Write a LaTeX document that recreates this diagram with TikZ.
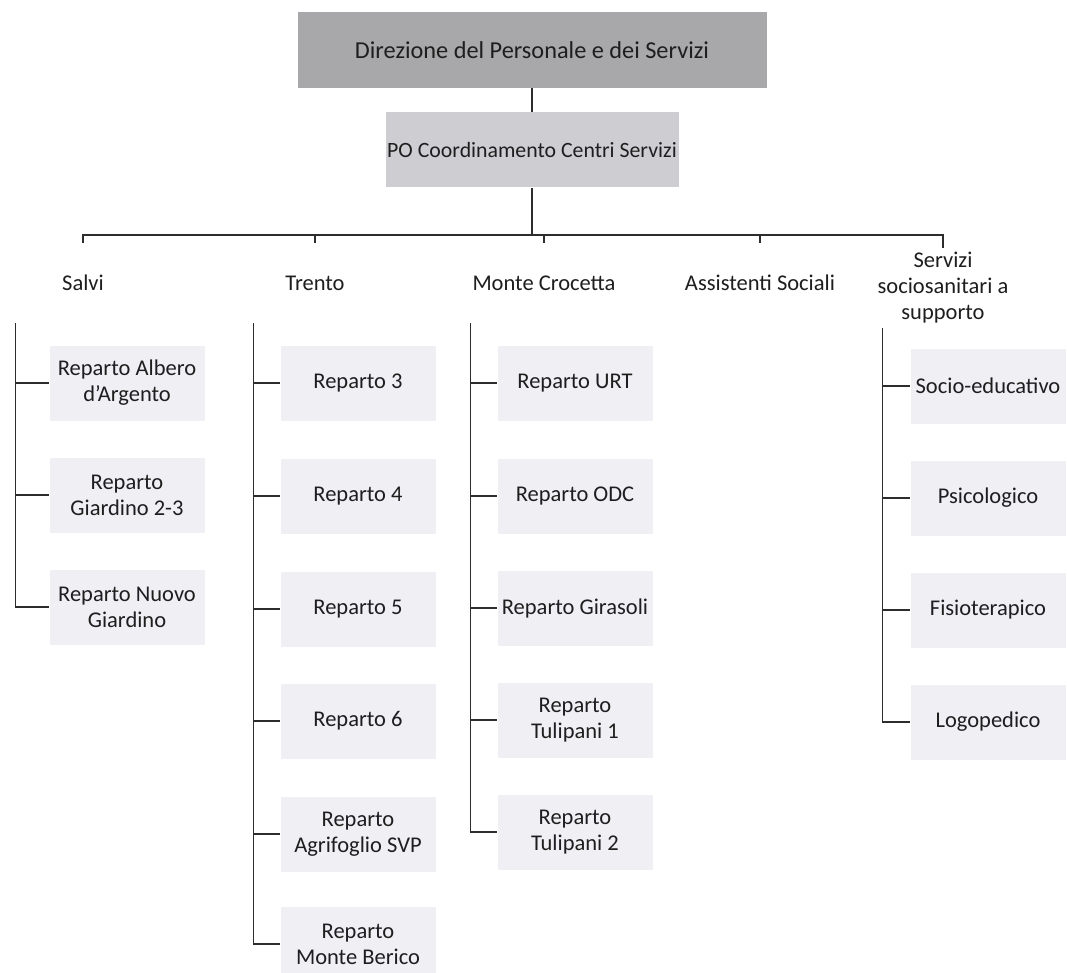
\documentclass[tikz,border=0pt]{standalone}
\usepackage{fontspec}
\setmainfont{Carlito}
\definecolor{leadfill}{RGB}{168,168,170}
\definecolor{pofill}{RGB}{206,206,210}
\definecolor{childfill}{RGB}{239,239,244}
\definecolor{linec}{RGB}{45,45,45}
\definecolor{txt}{RGB}{30,30,30}
\begin{document}
\begin{tikzpicture}[x=1pt,y=-1pt,
  every node/.style={font=\fontsize{22.5}{26}\selectfont, text=txt, align=center, inner sep=0pt},
  leadbox/.style={fill=leadfill, minimum width=469pt, minimum height=76pt, font=\fontsize{24.3}{29}\selectfont},
  pobox/.style={fill=pofill, minimum width=293pt, minimum height=75pt, font=\fontsize{21.8}{26}\selectfont},
  catbox/.style={minimum width=150pt, minimum height=80pt},
  kidbox/.style={fill=childfill, minimum width=155pt, minimum height=75pt},
  conn/.style={draw=linec, line width=1.4pt}]
\fill[white] (0,0) rectangle (1067,973);
\useasboundingbox (0,0) rectangle (1067,973);

% top levels
\node[leadbox] (dir) at (532,50) {Direzione del Personale e dei Servizi};
\node[pobox] (po) at (532,150) {PO Coordinamento Centri Servizi};

% categories
\node[catbox] (salvi) at (83,283) {Salvi};
\node[catbox] (trento) at (315,283) {Trento};
\node[catbox] (monte) at (544,283) {Monte Crocetta};
\node[catbox] (assist) at (760,283) {Assistenti Sociali};
\node[catbox] (servizi) at (943,288) {Servizi\\sociosanitari a\\supporto};

% Salvi children
\node[kidbox] (s1) at (127,383) {Reparto Albero\\d'Argento};
\node[kidbox] (s2) at (127,495) {Reparto\\Giardino 2-3};
\node[kidbox] (s3) at (127,607) {Reparto Nuovo\\Giardino};

% Trento children
\node[kidbox] (t1) at (358,383) {Reparto 3};
\node[kidbox] (t2) at (358,496) {Reparto 4};
\node[kidbox] (t3) at (358,609) {Reparto 5};
\node[kidbox] (t4) at (358,721) {Reparto 6};
\node[kidbox] (t5) at (358,834) {Reparto\\Agrifoglio SVP};
\node[kidbox] (t6) at (358,944) {Reparto\\Monte Berico};

% Monte Crocetta children
\node[kidbox] (m1) at (575,383) {Reparto URT};
\node[kidbox] (m2) at (575,496) {Reparto ODC};
\node[kidbox] (m3) at (575,608) {Reparto Girasoli};
\node[kidbox] (m4) at (575,720) {Reparto\\Tulipani 1};
\node[kidbox] (m5) at (575,832) {Reparto\\Tulipani 2};

% Servizi children
\node[kidbox] (v1) at (988,386) {Socio-educativo};
\node[kidbox] (v2) at (988,498) {Psicologico};
\node[kidbox] (v3) at (988,610) {Fisioterapico};
\node[kidbox] (v4) at (988,722) {Logopedico};

% connectors: top part
\coordinate (bar) at (532,235);
\draw[conn] (dir.south) -- (po.north);
\draw[conn] (po.south) -- (po.south |- bar);
\draw[conn] (salvi.north) -- (salvi.north |- bar) -- (servizi.north |- bar) -- (servizi.north);
\draw[conn] (trento.north) -- (trento.north |- bar);
\draw[conn] (monte.north) -- (monte.north |- bar);
\draw[conn] (assist.north) -- (assist.north |- bar);

% Salvi ladder
\coordinate (sl) at ([xshift=-34pt]s1.west);
\draw[conn] (sl |- salvi.south) -- (sl |- s3.west) -- (s3.west);
\draw[conn] (sl |- s1.west) -- (s1.west);
\draw[conn] (sl |- s2.west) -- (s2.west);

% Trento ladder
\coordinate (tl) at ([xshift=-27pt]t1.west);
\draw[conn] (tl |- trento.south) -- (tl |- t6.west) -- (t6.west);
\draw[conn] (tl |- t1.west) -- (t1.west);
\draw[conn] (tl |- t2.west) -- (t2.west);
\draw[conn] (tl |- t3.west) -- (t3.west);
\draw[conn] (tl |- t4.west) -- (t4.west);
\draw[conn] (tl |- t5.west) -- (t5.west);

% Monte Crocetta ladder
\coordinate (ml) at ([xshift=-27pt]m1.west);
\draw[conn] (ml |- monte.south) -- (ml |- m5.west) -- (m5.west);
\draw[conn] (ml |- m1.west) -- (m1.west);
\draw[conn] (ml |- m2.west) -- (m2.west);
\draw[conn] (ml |- m3.west) -- (m3.west);
\draw[conn] (ml |- m4.west) -- (m4.west);

% Servizi ladder
\coordinate (vl) at ([xshift=-28pt]v1.west);
\draw[conn] (vl |- servizi.south) -- (vl |- v4.west) -- (v4.west);
\draw[conn] (vl |- v1.west) -- (v1.west);
\draw[conn] (vl |- v2.west) -- (v2.west);
\draw[conn] (vl |- v3.west) -- (v3.west);
\end{tikzpicture}
\end{document}
